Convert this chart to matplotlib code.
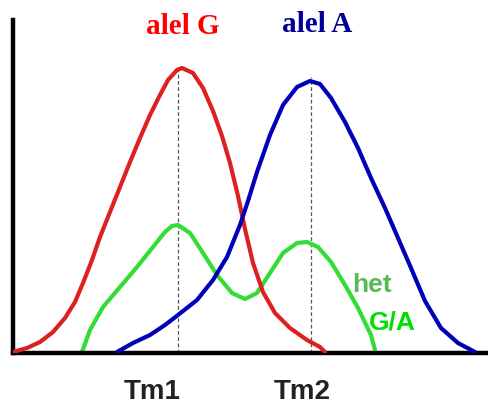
import matplotlib
matplotlib.use('Agg')
import matplotlib.pyplot as plt

# curves (x along the temperature axis, y = signal)
red_x = [13, 27, 40, 53, 65, 75, 83, 92, 100, 110, 120, 130, 140, 150, 160, 168, 177, 182,
         193, 203, 213, 222, 230, 238, 245, 253, 263, 275, 290, 307, 320, 325]
red_y = [1, 5, 11, 21, 35, 51, 70, 93, 116, 141, 166, 191, 215, 238, 258, 273, 283, 285,
         280, 265, 242, 217, 190, 157, 124, 90, 61, 40, 25, 13, 6, 1]

blue_x = [117, 133, 150, 165, 178, 197, 213, 227, 240, 248, 257, 270, 283, 297, 310, 320,
          331, 345, 358, 371, 385, 398, 411, 425, 441, 458, 475]
blue_y = [1, 10, 18, 28, 38, 53, 73, 96, 128, 152, 181, 218, 248, 266, 272, 269,
          255, 231, 205, 175, 145, 115, 85, 52, 25, 10, 1]

green_x = [82, 90, 103, 120, 137, 153, 165, 172, 178, 190, 203, 217, 232, 245, 257, 270,
           283, 297, 307, 318, 331, 345, 358, 371, 375]
green_y = [1, 23, 46, 66, 86, 106, 121, 127, 128, 120, 100, 78, 60, 54, 60, 80,
           100, 110, 111, 106, 91, 68, 45, 18, 3]

tm_x = [178, 311]
tm_top = [286, 276]
tm_labels = ['Tm1', 'Tm2']
tm_label_x = [152, 302]

fig = plt.figure(figsize=(4.88, 4.05), dpi=100)
ax = fig.add_axes([13 / 488, 52 / 405, 475 / 488, 333 / 405])
ax.set_xlim(13, 488)
ax.set_ylim(0, 333)

for x, top in zip(tm_x, tm_top):
    ax.plot([x, x], [0, top], color='#555555', lw=0.9, ls=(0, (3, 2)), zorder=1)

kw = dict(lw=3, solid_capstyle='round', solid_joinstyle='round')
ax.plot(red_x, red_y, color='#dd2020', zorder=3, **kw)
ax.plot(blue_x, blue_y, color='#0000b8', zorder=3, **kw)
ax.plot(green_x, green_y, color='#33dd33', zorder=2, **kw)

for s in ['top', 'right']:
    ax.spines[s].set_visible(False)
for s in ['left', 'bottom']:
    ax.spines[s].set_linewidth(3.2)
    ax.spines[s].set_color('black')
ax.set_xticks([])
ax.set_yticks([])

ax.text(183, 326, 'alel G', color='#ff0000', fontsize=21, fontweight='bold',
        family='Liberation Serif', ha='center', va='center', clip_on=False)
ax.text(317, 328, 'alel A', color='#000099', fontsize=21, fontweight='bold',
        family='Liberation Serif', ha='center', va='center', clip_on=False)

for lx, lab in zip(tm_label_x, tm_labels):
    ax.text(lx, -39, lab, color='#222222', fontsize=20, fontweight='bold',
            family='Liberation Sans', ha='center', va='center', clip_on=False)

ax.text(372, 68, 'het', color='#55bb55', fontsize=19, fontweight='bold',
        family='Liberation Sans', ha='center', va='center')
ax.text(392, 31, 'G/A', color='#00e000', fontsize=19, fontweight='bold',
        family='Liberation Sans', ha='center', va='center')

fig.savefig('out.png', dpi=100)
